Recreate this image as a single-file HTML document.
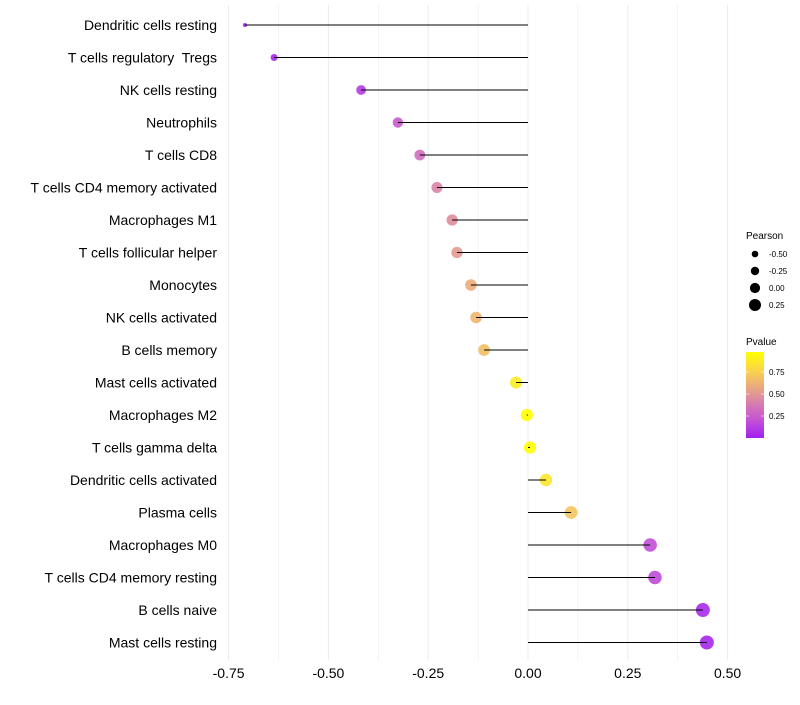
<!DOCTYPE html>
<html><head><meta charset="utf-8"><style>
body{margin:0;background:#fff;font-family:"Liberation Sans",sans-serif}
text{white-space:pre}
</style></head><body>
<svg id="c" width="800" height="700" xmlns="http://www.w3.org/2000/svg"></svg>
<script>
const categories=["Dendritic cells resting","T cells regulatory  Tregs","NK cells resting","Neutrophils","T cells CD8","T cells CD4 memory activated","Macrophages M1","T cells follicular helper","Monocytes","NK cells activated","B cells memory","Mast cells activated","Macrophages M2","T cells gamma delta","Dendritic cells activated","Plasma cells","Macrophages M0","T cells CD4 memory resting","B cells naive","Mast cells resting"];
const pearson=[-0.709,-0.636,-0.418,-0.326,-0.271,-0.228,-0.19,-0.178,-0.143,-0.13,-0.11,-0.03,-0.003,0.005,0.045,0.108,0.306,0.318,0.438,0.448];
const pvalues=[0.02,0.04,0.12,0.25,0.33,0.42,0.47,0.52,0.6,0.64,0.68,0.88,0.98,0.97,0.85,0.7,0.2,0.18,0.05,0.04];
const xTicks=[-0.75,-0.5,-0.25,0,0.25,0.5];
const xTickLabels=["-0.75","-0.50","-0.25","0.00","0.25","0.50"];
const sizeLegend=[-0.5,-0.25,0,0.25];
const sizeLegendLabels=["-0.50","-0.25","0.00","0.25"];
const pLegendTicks=[0.25,0.5,0.75];

const NS="http://www.w3.org/2000/svg";
const svg=document.getElementById('c');
const x=v=>528+v*399.2;
const y=i=>25+i*32.5;
const r=v=>{const t=Math.max(0,(v+0.709)/(0.448+0.709));return Math.sqrt(4+45*Math.pow(t,0.6));};
function lerp(a,b,t){return a.map((c,i)=>Math.round(c+(b[i]-c)*t));}
function col(p){
  const t=Math.max(0,Math.min(1,(p-0.01)/(0.977-0.01)));
  const s=[[160,32,240],[195,80,215],[215,125,175],[235,170,125],[250,215,70],[255,255,0]];
  const k=t*(s.length-1),i=Math.min(Math.floor(k),s.length-2);
  const c=lerp(s[i],s[i+1],k-i);return `rgb(${c[0]},${c[1]},${c[2]})`;
}
function el(t,a,p){const e=document.createElementNS(NS,t);for(const k in a)e.setAttribute(k,a[k]);(p||svg).appendChild(e);return e;}

for(let v=-0.75;v<=0.5001;v+=0.125){
  const g=el('line',{x1:x(v),x2:x(v),y1:5,y2:660,stroke:'#ebebeb','stroke-width':Math.abs(v*4-Math.round(v*4))<1e-6?1:0.6});
  
  
}
xTicks.forEach((v,i)=>{
  const t=el('text',{x:x(v),y:678,'text-anchor':'middle','font-size':14,fill:'#000'});
  t.textContent=xTickLabels[i];
  
  
});
categories.forEach((c,i)=>{
  const t=el('text',{x:217,y:y(i)+5,'text-anchor':'end','font-size':14,fill:'#000'});
  t.textContent=c;
  
  
  const ci=el('circle',{cx:x(pearson[i]),cy:y(i),r:r(pearson[i]),fill:col(pvalues[i]),'fill-opacity':0.9});
  
  
  const l=el('line',{x1:x(0),x2:x(pearson[i]),y1:y(i),y2:y(i),stroke:'#000','stroke-width':1});
  
  
});
const lt=el('text',{x:746,y:239,'font-size':10});lt.textContent='Pearson';


sizeLegend.forEach((v,i)=>{
  const cy=254+i*17;
  const c=el('circle',{cx:755,cy:cy,r:3.3+i*0.9,fill:'#000'});
  
  
  const t=el('text',{x:769,y:cy+3,'font-size':8});t.textContent=sizeLegendLabels[i];
  
  
});
const pt=el('text',{x:746,y:345,'font-size':10});pt.textContent='Pvalue';


const defs=el('defs',{});
const lg=el('linearGradient',{id:'g',x1:0,y1:1,x2:0,y2:0},defs);
for(let k=0;k<=10;k++){el('stop',{offset:k/10,'stop-color':col(0.01+k/10*0.967)},lg);}
const bar=el('rect',{x:746,y:352,width:18,height:86,fill:'url(#g)'});


pLegendTicks.forEach(v=>{
  const yy=416-(v-0.25)*88;
  el('line',{x1:746,x2:749,y1:yy,y2:yy,stroke:'#fff','stroke-width':0.6});
  el('line',{x1:761,x2:764,y1:yy,y2:yy,stroke:'#fff','stroke-width':0.6});
  const t=el('text',{x:769,y:yy+3,'font-size':8});t.textContent=v.toFixed(2);
  
  
});
</script>
</body></html>
